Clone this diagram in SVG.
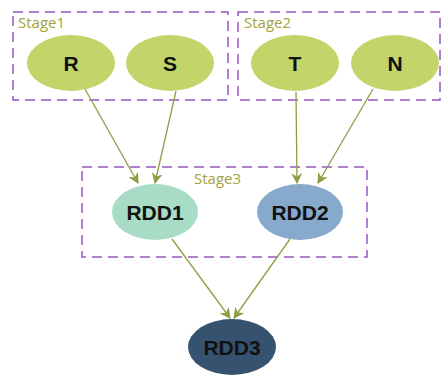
<svg xmlns="http://www.w3.org/2000/svg" width="443" height="376" viewBox="0 0 443 376">
<style>
.box{fill:none;stroke:#9557C2;stroke-width:1.5;stroke-dasharray:10,6}
.lbl{font-family:"Open Sans","Liberation Sans",sans-serif;font-size:15px;fill:#A3A33A}
.g{fill:#C3D56A}
.t{font-family:"Liberation Sans",Arial,sans-serif;font-weight:bold;font-size:21px;fill:#111;text-anchor:middle;dominant-baseline:central}
.e{stroke:#8F9E45;stroke-width:1.3;fill:none;marker-end:url(#ah)}
</style>
<defs>
<marker id="ah" viewBox="0 0 10 10" refX="9" refY="5" markerWidth="11" markerHeight="11" orient="auto" markerUnits="userSpaceOnUse">
<path d="M0,0 L10,5 L0,10 L3,5 z" fill="#8F9E45"/>
</marker>
</defs>
<rect width="443" height="376" fill="#fff"/>
<g id="stage1"><rect class="box" x="13" y="12" width="215" height="88"/><text class="lbl" x="18" y="28">Stage1</text></g>
<g id="stage2"><rect class="box" x="238" y="12" width="202" height="88"/><text class="lbl" x="244" y="28">Stage2</text></g>
<g id="stage3"><rect class="box" x="82" y="167" width="285" height="90"/><text class="lbl" x="194" y="184">Stage3</text></g>
<g id="edges">
<line class="e" x1="85" y1="89" x2="138" y2="183"/>
<line class="e" x1="176" y1="91" x2="155" y2="183"/>
<line class="e" x1="296" y1="92" x2="297" y2="183"/>
<line class="e" x1="373" y1="89" x2="318" y2="183"/>
<line class="e" x1="172" y1="239" x2="230" y2="318"/>
<line class="e" x1="290" y1="239" x2="234" y2="318"/>
</g>
<g id="R"><ellipse class="g" cx="71" cy="63" rx="44" ry="28"/><text class="t" x="71" y="63">R</text></g>
<g id="S"><ellipse class="g" cx="170" cy="63" rx="44" ry="28"/><text class="t" x="170" y="63">S</text></g>
<g id="T"><ellipse class="g" cx="295" cy="63" rx="44" ry="28"/><text class="t" x="295" y="63">T</text></g>
<g id="N"><ellipse class="g" cx="395" cy="63" rx="44" ry="28"/><text class="t" x="395" y="63">N</text></g>
<g id="RDD1"><ellipse cx="155" cy="212" rx="43" ry="28" fill="#A8DCC7"/><text class="t" x="155" y="212">RDD1</text></g>
<g id="RDD2"><ellipse cx="300" cy="212" rx="43" ry="28" fill="#86A9CC"/><text class="t" x="300" y="212">RDD2</text></g>
<g id="RDD3"><ellipse cx="232" cy="347" rx="44" ry="28" fill="#35536F"/><text class="t" x="232" y="347">RDD3</text></g>
</svg>
